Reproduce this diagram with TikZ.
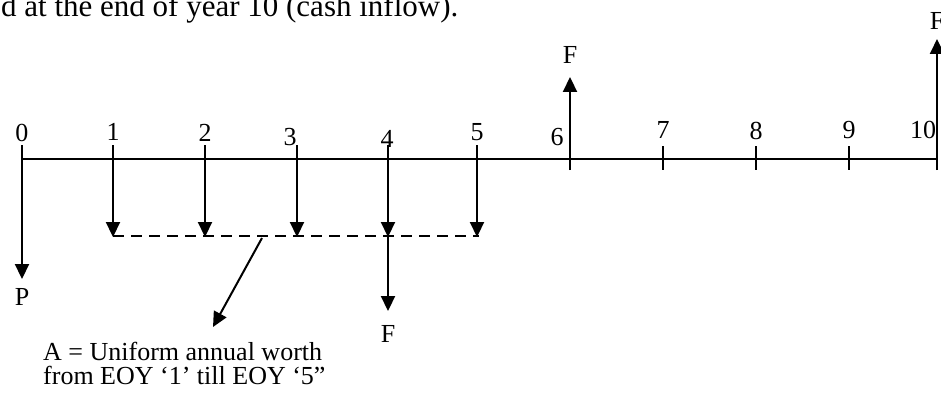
\documentclass[tikz,border=0pt]{standalone}
\usepackage{fontspec}
\setmainfont{Liberation Serif}
\usetikzlibrary{arrows.meta}
\begin{document}
\begin{tikzpicture}[x=1pt,y=-1pt,
  line/.style={line width=2pt},
  flow/.style={line width=2.2pt,-{Triangle[width=14pt,length=15pt]}},
  dashline/.style={line width=2pt,dash pattern=on 11pt off 7pt},
  lbl/.style={inner sep=0pt,font=\fontsize{26}{30}\selectfont},
  txt/.style={inner sep=0pt,anchor=base west,font=\fontsize{26}{30}\selectfont}]
\useasboundingbox (0,0) rectangle (941,393);
% top text
\node[inner sep=0pt,anchor=base west,font=\fontsize{31}{35}\selectfont] (top) at (1,17) {d at the end of year 10 (cash inflow).};
% coordinates
\coordinate (a0) at (22,159);
\coordinate (a10) at (937,159);
\foreach \i/\x in {0/22,1/113,2/205,3/297,4/388,5/477}{
  \coordinate (t\i) at (\x,145);
  \coordinate (d\i) at (\x,237);
}
\foreach \i/\x in {6/570,7/663,8/756,9/849,10/937}{
  \coordinate (t\i) at (\x,146);
  \coordinate (b\i) at (\x,170);
}
\coordinate (pend) at (22,279);
\coordinate (f4end) at (388,311);
\coordinate (f6end) at (570,77);
\coordinate (f10end) at (937,39);
\coordinate (dstart) at (113,236);
\coordinate (dend) at (479,236);
\coordinate (astart) at (262,238);
\coordinate (aend) at (213,327);
% axis
\draw[line] (a0) -- (a10);
% ticks
\foreach \i in {7,8,9}{\draw[line] (t\i) -- (b\i);}
% arrows
\draw[flow] (t0) -- (pend);
\foreach \i in {1,2,3,4,5}{\draw[flow] (t\i) -- (d\i);}
\draw[flow] (d4) -- (f4end);
\draw[flow] (b6) -- (f6end);
\draw[flow] (b10) -- (f10end);
\draw[dashline] (dstart) -- (dend);
\draw[line,-{Triangle[width=14pt,length=15pt]}] (astart) -- (aend);
% labels
\node[lbl] (l0) at (22,133) {0};
\node[lbl] (l1) at (113,132) {1};
\node[lbl] (l2) at (205,133) {2};
\node[lbl] (l3) at (290,137) {3};
\node[lbl] (l4) at (387,139) {4};
\node[lbl] (l5) at (477,132) {5};
\node[lbl] (l6) at (557,137) {6};
\node[lbl] (l7) at (663,130) {7};
\node[lbl] (l8) at (756,131) {8};
\node[lbl] (l9) at (849,130) {9};
\node[lbl] (l10) at (923,130) {10};
\node[lbl] (p) at (22,297) {P};
\node[lbl] (f4) at (388,334) {F};
\node[lbl] (f6) at (570,55) {F};
\node[lbl] (f10) at (937,21) {F};
\node[txt] (ta) at (43,360) {A = Uniform annual worth};
\node[txt] (tb) at (43,384) {from EOY ‘1’ till EOY ‘5”};
\end{tikzpicture}
\end{document}
